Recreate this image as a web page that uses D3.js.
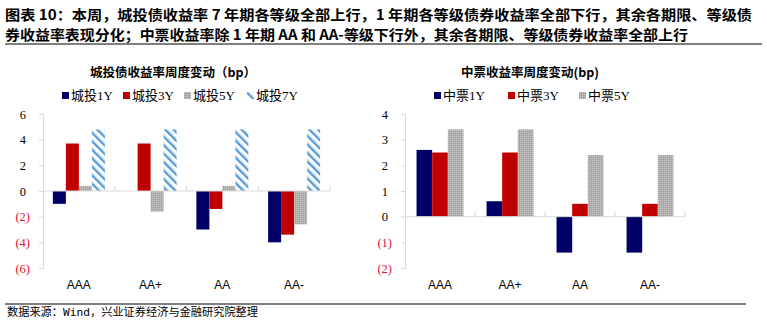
<!DOCTYPE html>
<html><head><meta charset="utf-8">
<script src="https://cdn.jsdelivr.net/npm/d3@7/dist/d3.min.js"></script>
<style>body{margin:0;background:#fff}svg{display:block}</style>
</head><body>
<svg id="c" width="767" height="326"></svg>
<script>
const categories = ["AAA","AA+","AA","AA-"];
const ctSeries = ["城投1Y","城投3Y","城投5Y","城投7Y"];
const ct1Y = [-1.0, 0.0, -3.0, -4.0];
const ct3Y = [3.7, 3.7, -1.4, -3.4];
const ct5Y = [0.4, -1.6, 0.4, -2.6];
const ct7Y = [4.8, 4.8, 4.8, 4.8];
const ctTicks = [-6,-4,-2,0,2,4,6];
const mtnSeries = ["中票1Y","中票3Y","中票5Y"];
const mtn1Y = [2.6, 0.6, -1.4, -1.4];
const mtn3Y = [2.5, 2.5, 0.5, 0.5];
const mtn5Y = [3.4, 3.4, 2.4, 2.4];
const mtnTicks = [-2,-1,0,1,2,3,4];
const headerLines = [
 "图表 10：本周，城投债收益率 7 年期各等级全部上行，1 年期各等级债券收益率全部下行，其余各期限、等级债",
 "券收益率表现分化；中票收益率除 1 年期 AA 和 AA-等级下行外，其余各期限、等级债券收益率全部上行"
];
const sourceText = "数据来源：Wind，兴业证券经济与金融研究院整理";

const svg = d3.select("#c");
const defs = svg.append("defs");
// hatch pattern
const hp = defs.append("pattern").attr("id","hatch").attr("patternUnits","userSpaceOnUse")
 .attr("width",6).attr("height",6).attr("patternTransform","rotate(-45)");
hp.append("rect").attr("width",6).attr("height",6).attr("fill","#fff");
hp.append("rect").attr("x",0).attr("width",2.4).attr("height",6).attr("fill","#5b9bd5");
hp.append("rect").attr("x",2.4).attr("width",0.8).attr("height",6).attr("fill","#bcd6ef");
// gray texture
const gp = defs.append("pattern").attr("id","gray").attr("patternUnits","userSpaceOnUse")
 .attr("width",2).attr("height",2);
gp.append("rect").attr("width",2).attr("height",2).attr("fill","#b0b0b0");
gp.append("rect").attr("width",1).attr("height",1).attr("fill","#c4c4c4");
gp.append("rect").attr("x",1).attr("y",1).attr("width",1).attr("height",1).attr("fill","#a0a0a0");

const serif = "'Liberation Serif','Noto Sans CJK SC',serif";
const cjk = "'Noto Sans CJK SC',sans-serif";

// header
headerLines.forEach((t,i)=>{
  svg.append("text").attr("x",5).attr("y",[20,40][i]).text(t)
   .attr("font-family",cjk).attr("font-weight","bold").attr("font-size",14)
   .attr("textLength",[747,683][i]).attr("lengthAdjust","spacingAndGlyphs").attr("fill","#000");
});
svg.append("line").attr("x1",5).attr("x2",762).attr("y1",44).attr("y2",44).attr("stroke","#000").attr("stroke-width",1.2);
svg.append("line").attr("x1",5).attr("x2",746).attr("y1",304).attr("y2",304).attr("stroke","#000").attr("stroke-width",1.2);
svg.append("text").attr("x",7).attr("y",316).text(sourceText)
 .attr("font-family","'DejaVu Sans Mono','Noto Sans CJK SC',monospace").attr("font-size",11)
 .attr("textLength",251).attr("lengthAdjust","spacingAndGlyphs").attr("fill","#000");

function drawChart(o){
  const g = svg.append("g");
  const x = d3.scaleBand().domain(categories).range([o.x0,o.x1]).paddingInner(o.pad).paddingOuter(o.pad/2);
  const xs = d3.scaleBand().domain(o.series.map((d,i)=>i)).range([0,x.bandwidth()]);
  const y = d3.scaleLinear().domain(o.domain).range([268,114]);
  // title
  g.append("text").attr("x",o.titleX).attr("y",77).attr("text-anchor","middle").text(o.title)
   .attr("font-family",cjk).attr("font-weight","bold").attr("font-size",12.5).attr("fill","#000");
  // legend
  o.series.forEach((s,i)=>{
    const lx = o.legX[i];
    g.append("rect").attr("x",lx).attr("y",92).attr("width",7).attr("height",7).attr("fill",o.fills[i]);
    g.append("text").attr("x",lx+9).attr("y",100).text(s).attr("font-family",serif).attr("font-size",13).attr("fill","#000");
  });
  // y axis
  const ya = g.append("g").attr("transform",`translate(${o.x0},0)`)
    .call(d3.axisLeft(y).tickValues(o.ticks).tickSize(4).tickFormat(d=>d<0?`(${-d})`:`${d}`));
  ya.select(".domain").attr("stroke","#d9d9d9");
  ya.selectAll(".tick line").attr("stroke","#d9d9d9");
  ya.selectAll(".tick text").attr("x",o.labelEnd - o.x0).attr("dx",d=>d<0?0:-4)
    .attr("font-family",serif).attr("font-size",12.5)
    .attr("fill",d=>d<0?"#e0103a":"#000");
  // bars
  categories.forEach((c,ci)=>{
    o.values.forEach((arr,si)=>{
      const v = arr[ci];
      g.append("rect").attr("x",x(c)+xs(si)).attr("width",xs.bandwidth())
       .attr("y",y(Math.max(0,v))).attr("height",Math.abs(y(v)-y(0)))
       .attr("fill",o.fills[si]);
    });
  });
  // x axis at zero
  const y0 = y(0);
  g.append("line").attr("x1",o.x0).attr("x2",o.x1).attr("y1",y0).attr("y2",y0).attr("stroke","#d9d9d9");
  categories.forEach((c,ci)=>{
    const bx = x(c)+x.bandwidth()+x.step()*x.paddingInner()/2;
    g.append("line").attr("x1",bx).attr("x2",bx).attr("y1",y0-5).attr("y2",y0).attr("stroke","#d9d9d9");
    g.append("text").attr("x",x(c)+x.bandwidth()/2).attr("y",289).attr("text-anchor","middle").text(c)
     .attr("font-family","'Liberation Sans',Arial,sans-serif").attr("font-size",12).attr("fill","#000");
  });
}

drawChart({x0:43,x1:330,pad:0.275,domain:[-6,6],ticks:ctTicks,series:ctSeries,
  values:[ct1Y,ct3Y,ct5Y,ct7Y],fills:["#000066","#c00000","url(#gray)","url(#hatch)"],
  title:"城投债收益率周度变动（bp）",titleX:173,legX:[62,123,184,247],labelEnd:30});
drawChart({x0:405,x1:685,pad:0.33,domain:[-2,4],ticks:mtnTicks,series:mtnSeries,
  values:[mtn1Y,mtn3Y,mtn5Y],fills:["#000066","#c00000","url(#gray)"],
  title:"中票收益率周度变动(bp)",titleX:530,legX:[434,508,579],labelEnd:392});
</script>
</body></html>
